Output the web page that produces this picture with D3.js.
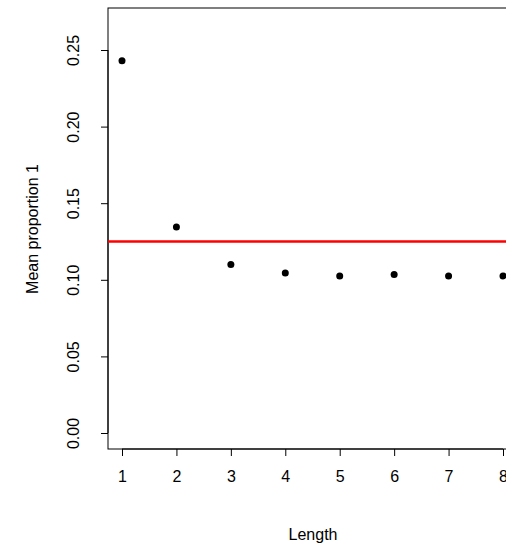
<!DOCTYPE html>
<html><head><meta charset="utf-8">
<script src="https://cdn.jsdelivr.net/npm/d3@7"></script>
<style>body{margin:0;background:#fff}text{font-family:"Liberation Sans",Arial,sans-serif;fill:#000}</style>
</head><body>
<script>
const lengths=[1,2,3,4,5,6,7,8];
const meanProp=[0.243,0.1345,0.110,0.1045,0.1025,0.1035,0.1025,0.1025];
const refLine=0.125;
const yTicks=[0,0.05,0.10,0.15,0.20,0.25];
const xTicks=[1,2,3,4,5,6,7,8];
(function(){
const W=506,H=546;
const svg=d3.select("body").append("svg").attr("width",W).attr("height",H);
const x=d3.scaleLinear().domain([1,8]).range([122,503]);
const y=d3.scaleLinear().domain([0,0.25]).range([433,50]);
const pL=108,pT=8,pB=449,pR=x(8.45);

svg.append("rect").attr("x",pL).attr("y",pT).attr("width",pR-pL).attr("height",pB-pT)
 .attr("fill","none").attr("stroke","#000").attr("stroke-width",1);

const yg=svg.append("g").attr("transform",`translate(${pL},0)`);
yg.call(d3.axisLeft(y).tickValues(yTicks).tickSize(7).tickFormat(d3.format(".2f")));
yg.select(".domain").attr("d",`M0,${y(0)}V${y(0.25)}`).attr("stroke","#000");
yg.selectAll(".tick text").attr("font-size",16).attr("transform","rotate(-90)").attr("x",0).attr("y",-35)
 .attr("dy","0.35em").attr("text-anchor","middle").attr("font-family","Liberation Sans, Arial, sans-serif");

const xg=svg.append("g").attr("transform",`translate(0,${pB})`);
xg.call(d3.axisBottom(x).tickValues(xTicks).tickSize(7).tickFormat(d3.format("d")));
xg.select(".domain").remove();
xg.append("line").attr("x1",x(1)).attr("x2",x(8)).attr("stroke","#000");
xg.selectAll(".tick text").attr("font-size",16).attr("y",22).attr("dy","0.71em").attr("font-family","Liberation Sans, Arial, sans-serif");

svg.append("line").attr("x1",pL).attr("x2",pR).attr("y1",y(refLine)).attr("y2",y(refLine))
 .attr("stroke","#ff0000").attr("stroke-width",2.5);

svg.selectAll("circle.p").data(lengths).enter().append("circle")
 .attr("cx",d=>x(d)).attr("cy",(d,i)=>y(meanProp[i])).attr("r",3.5).attr("fill","#000");

svg.append("text").attr("x",313).attr("y",540).attr("text-anchor","middle").attr("font-size",16).text("Length");
svg.append("text").attr("transform","translate(38,229) rotate(-90)").attr("text-anchor","middle").attr("font-size",16).text("Mean proportion 1");
})();
</script>
</body></html>
